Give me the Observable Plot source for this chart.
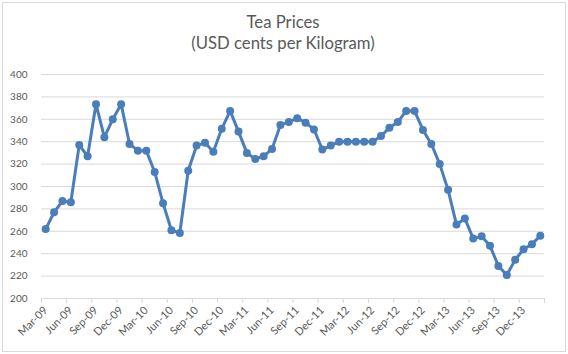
<!DOCTYPE html>
<html>
<head>
<meta charset="utf-8">
<script src="https://cdn.jsdelivr.net/npm/d3@7"></script>
<script src="https://cdn.jsdelivr.net/npm/@observablehq/plot@0.6"></script>
<style>
  html, body { margin: 0; padding: 0; background: #fff; }
  #wrap { position: relative; width: 568px; height: 354px; overflow: hidden; }
  #frame { position: absolute; left: 2px; top: 2px; width: 564px; height: 350px; box-sizing: border-box; border: 1px solid #d9d9d9; pointer-events: none; }
  #title { position: absolute; left: 0; width: 566px; top: 12px; text-align: center; font-family: Lato, sans-serif; font-size: 16.7px; line-height: 21px; color: #595959; }
  #chart { position: absolute; left: 0; top: 0; }
</style>
</head>
<body>
<div id="wrap">
  <div id="chart"></div>
  <div id="title">Tea Prices<br>(USD cents per Kilogram)</div>
  <div id="frame"></div>
</div>
<script>
// Quarterly tick labels (one every 3 months, first month Mar-09)
const tickLabels = ["Mar-09","Jun-09","Sep-09","Dec-09","Mar-10","Jun-10","Sep-10","Dec-10",
  "Mar-11","Jun-11","Sep-11","Dec-11","Mar-12","Jun-12","Sep-12","Dec-12",
  "Mar-13","Jun-13","Sep-13","Dec-13"];
// Monthly tea prices, Mar-09 .. Feb-14 (USD cents per kilogram)
const prices = [262, 277, 287, 286, 337, 327, 373.5, 344, 360, 373.5, 338, 332,
  332, 313, 285, 261, 258.5, 314, 336.5, 339, 331, 351.5, 367.5, 349,
  330, 324.5, 327, 333.5, 355, 357.5, 361, 357, 351, 333, 336.5, 340,
  340, 340, 340, 340, 345, 352.5, 357.5, 367.5, 367.5, 350.5, 338, 320,
  297, 266, 271.5, 253.5, 255.5, 247, 229, 221, 234.5, 244, 248.5, 256];
const yTicks = [200, 220, 240, 260, 280, 300, 320, 340, 360, 380, 400];

const n = prices.length;
const labelIdx = tickLabels.map((_, k) => k * 3);
const boundaries = d3.range(0, n + 1, 3).map(i => i - 0.5);
const blue = "#4A7EBB";

const chart = Plot.plot({
  width: 568,
  height: 354,
  marginTop: 74,
  marginBottom: 56,
  marginLeft: 41,
  marginRight: 24,
  style: { fontFamily: "Lato, sans-serif", fontSize: "10px", color: "#595959", background: "transparent" },
  x: { type: "linear", domain: [-0.5, n - 0.5] },
  y: { domain: [200, 400] },
  marks: [
    Plot.ruleY(yTicks, { stroke: "#d9d9d9", strokeWidth: 1, x1: -0.5, x2: n - 0.5 }),
    Plot.axisX({ ticks: boundaries, tickSize: 5, tickFormat: () => "", stroke: "#d9d9d9", strokeOpacity: 1 }),
    Plot.axisX({ ticks: labelIdx, tickSize: 0, tickPadding: 10, tickRotate: -45, tickFormat: i => tickLabels[i / 3], fill: "#595959", fontSize: 11 }),
    Plot.axisY({ ticks: yTicks, tickSize: 0, tickPadding: 14, fill: "#595959" }),
    Plot.line(prices, { x: (d, i) => i, y: d => d, stroke: blue, strokeWidth: 3, curve: "linear" }),
    Plot.dot(prices, { x: (d, i) => i, y: d => d, r: 4, fill: blue, stroke: "none" })
  ]
});
document.getElementById("chart").appendChild(chart);
</script>
</body>
</html>
